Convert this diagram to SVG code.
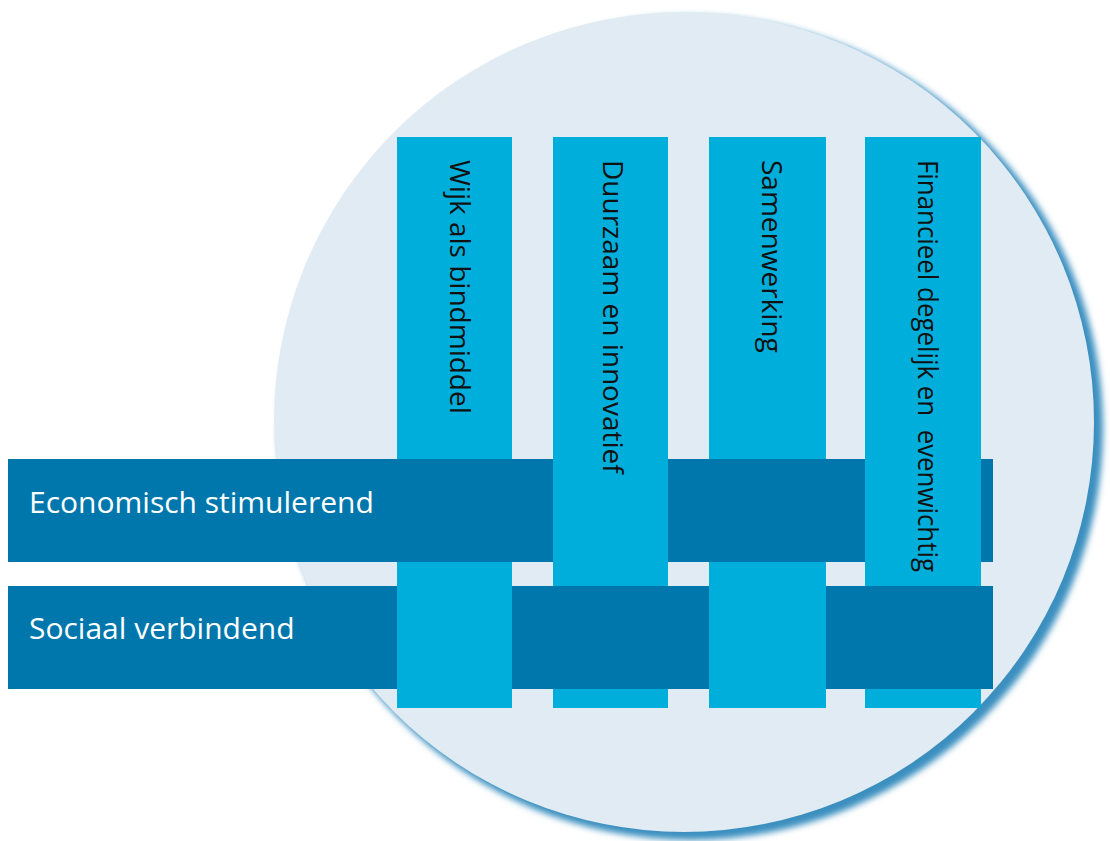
<svg xmlns="http://www.w3.org/2000/svg" width="1110" height="841" viewBox="0 0 1110 841">
<style>
.vbar{fill:#00AEDB}
.hbar{fill:#0077AC}
.vtxt{font-family:"Open Sans","Noto Sans",sans-serif;font-size:28px;fill:#111}
.htxt{font-family:"Open Sans","Noto Sans",sans-serif;font-size:30px;fill:#ffffff}
</style>
<defs>
<filter id="blur" x="-10%" y="-10%" width="120%" height="120%"><feGaussianBlur stdDeviation="3"/></filter>
</defs>
<rect width="1110" height="841" fill="#ffffff"/>
<g id="background">
<circle cx="691" cy="428" r="412" fill="#3a8fbf" filter="url(#blur)"/>
<circle cx="684" cy="422" r="410" fill="#E0EBF4"/>
</g>
<g id="v1-wijk">
<rect class="vbar" x="397" y="137" width="115" height="571"/>
<text class="vtxt" transform="translate(450,160) rotate(90)">Wijk als bindmiddel</text>
</g>
<g id="v3-samenwerking">
<rect class="vbar" x="709" y="137" width="117" height="571"/>
<text class="vtxt" transform="translate(762,160) rotate(90)">Samenwerking</text>
</g>
<g id="h1-economisch">
<rect class="hbar" x="8" y="459" width="985" height="103"/>
<text class="htxt" x="29" y="513">Economisch stimulerend</text>
</g>
<g id="v2-duurzaam">
<rect class="vbar" x="553" y="137" width="115" height="571"/>
<text class="vtxt" transform="translate(603,160) rotate(90)">Duurzaam en innovatief</text>
</g>
<g id="v4-financieel">
<rect class="vbar" x="865" y="137" width="116" height="571"/>
<text class="vtxt" transform="translate(918,160) rotate(90)" xml:space="preserve" textLength="412" lengthAdjust="spacingAndGlyphs">Financieel degelijk en  evenwichtig</text>
</g>
<g id="h2-sociaal">
<rect class="hbar" x="8" y="586" width="985" height="103"/>
<text class="htxt" x="29" y="639">Sociaal verbindend</text>
</g>
<g id="weave-overlaps">
<rect class="vbar" x="397" y="586" width="115" height="103"/>
<rect class="vbar" x="709" y="586" width="117" height="103"/>
</g>
</svg>
